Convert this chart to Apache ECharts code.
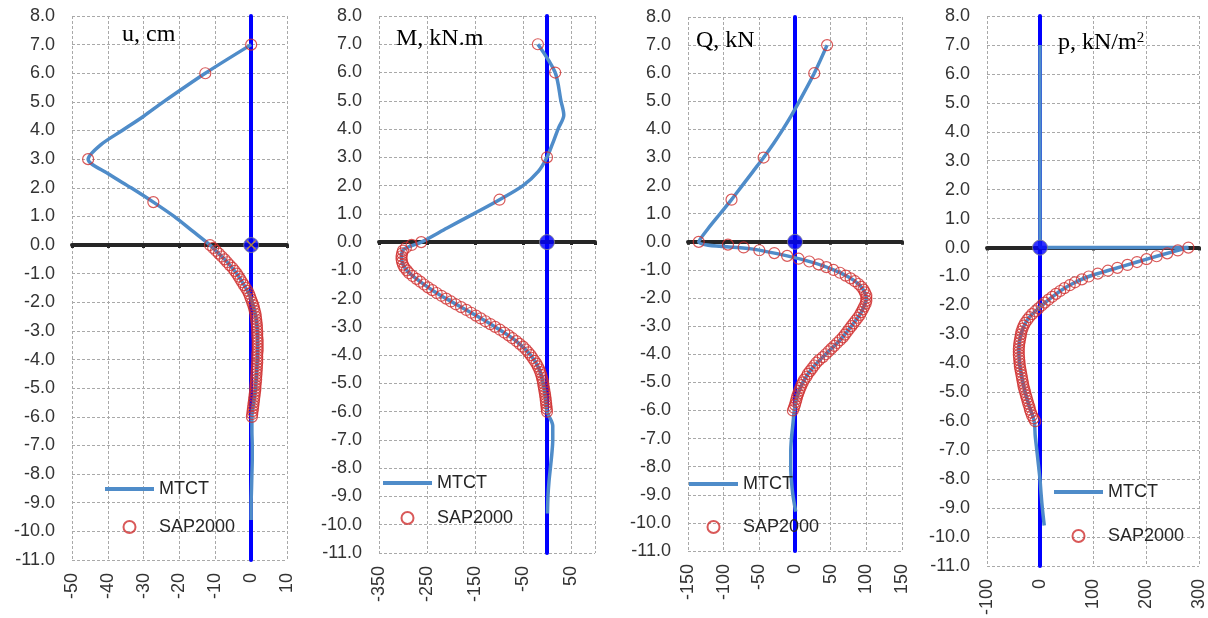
<!DOCTYPE html>
<html>
<head>
<meta charset="utf-8">
<script src="https://cdn.jsdelivr.net/npm/echarts@6/dist/echarts.min.js"></script>
<style>
  html, body { margin: 0; padding: 0; background: #fff; }
  #main { width: 1208px; height: 618px; }
</style>
</head>
<body>
<div id="main"></div>
<script>
// depths (m) of the SAP2000 points above ground
var sapTopDepth = [7, 6, 3, 1.5];
// depths (m) of the SAP2000 points along the embedded part
var sapDepth = [0, -0.1, -0.2, -0.3, -0.4, -0.5, -0.6, -0.7, -0.8, -0.9,
  -1.0, -1.1, -1.2, -1.3, -1.4, -1.5, -1.6, -1.7, -1.8, -1.9,
  -2.0, -2.1, -2.2, -2.3, -2.4, -2.5, -2.6, -2.7, -2.8, -2.9,
  -3.0, -3.1, -3.2, -3.3, -3.4, -3.5, -3.6, -3.7, -3.8, -3.9,
  -4.0, -4.1, -4.2, -4.3, -4.4, -4.5, -4.6, -4.7, -4.8, -4.9,
  -5.0, -5.1, -5.2, -5.3, -5.4, -5.5, -5.6, -5.7, -5.8, -5.9,
  -6.0];
// depths (m) of the MTCT curve points
var mtctDepth = [7, 6, 5, 4.5, 4, 3.5, 3, 2.5, 2, 1.5, 1, 0.5, 0,
  -0.25, -0.5, -0.75, -1, -1.25, -1.5, -1.75, -2, -2.5, -3, -3.5, -4,
  -4.5, -5, -5.5, -6, -6.5, -7, -7.5, -8, -8.5, -9, -9.6];
var pMtctDepth = [7, 0, 0, -0.25, -0.5, -0.75, -1, -1.25, -1.5, -1.75, -2,
  -2.5, -3, -3.5, -4, -4.5, -5, -5.5, -6, -6.5, -7, -7.5, -8, -8.5, -9, -9.6];

// u, cm
var uMtct = [0, -12.8, -24.5, -30, -36, -42, -45.5, -40, -33.5, -27.3, -21.5, -16.5, -11.5,
  -9.4, -7.4, -5.6, -4.0, -2.7, -1.5, -0.4, 0.3, 1.3, 1.7, 1.8, 1.7,
  1.5, 1.2, 0.7, 0.2, 0.2, 0.3, 0.3, 0.2, 0.1, 0.0, 0.0];
var uSapTop = [0, -12.8, -45.5, -27.3];
var uSap = [-11.5, -10.6, -9.8, -9.0, -8.2, -7.4, -6.7, -6.0, -5.2, -4.6,
  -4.0, -3.5, -3.0, -2.5, -2.0, -1.5, -1.0, -0.6, -0.3, 0.0,
  0.3, 0.6, 0.8, 1.0, 1.2, 1.3, 1.4, 1.5, 1.6, 1.6,
  1.7, 1.7, 1.7, 1.8, 1.8, 1.8, 1.8, 1.8, 1.7, 1.7,
  1.7, 1.7, 1.6, 1.6, 1.5, 1.5, 1.4, 1.4, 1.3, 1.2,
  1.2, 1.1, 1.0, 0.9, 0.8, 0.7, 0.6, 0.5, 0.4, 0.3,
  0.2];

// M, kN.m
var mMtct = [-19, 17, 29, 35, 23, 12, 0, -18, -50, -99, -153, -208, -262,
  -298, -303, -301, -292, -276, -256, -235, -210, -158, -108, -64, -34,
  -16, -8, -3.2, 0, 12, 12, 10, 7, 4, 2, 1];
var mSapTop = [-19, 17, 0, -99];
var mSap = [-262, -282, -294, -300, -302, -303, -303, -302, -300, -297,
  -292, -287, -280, -272, -264, -256, -248, -239, -230, -220,
  -210, -200, -190, -179, -168, -158, -148, -138, -128, -118,
  -108, -98, -89, -80, -72, -64, -57, -50, -44, -39,
  -34, -30, -26, -22, -19, -16, -14, -12, -10.5, -9,
  -8, -7, -6, -5, -4, -3.2, -2.5, -1.8, -1.2, -0.6,
  0];

// Q, kN
var qMtct = [45, 27, 6, -5, -17, -30, -44, -59, -74, -89, -105, -121, -135,
  -61, -11, 27, 54, 75, 89, 97, 100, 93, 79, 63, 43,
  24, 11, 3, -1, -3, -5, -6, -6, -5, -3, 1];
var qSapTop = [45, 27, -44, -89];
var qSap = [-135, -94, -72, -50, -29, -11, 5, 20, 33, 44,
  54, 63, 71, 78, 84, 89, 93, 96, 98, 100,
  100, 100, 99, 97, 95, 93, 91, 88, 85, 82,
  79, 76, 73, 70, 67, 63, 59, 55, 51, 47,
  43, 39, 34, 30, 27, 24, 21, 18, 16, 13,
  11, 9, 7.5, 6, 4.5, 3, 2, 1, 0, -1.5,
  -3];

// p, kN/m2
var pMtct = [0, 0, 280, 230, 183, 137, 92, 61, 38, 20, 3,
  -24, -36, -40, -38.5, -34, -28, -20, -11, -9, -6, -3, 0, 2, 4.4, 8];
var pSap = [280, 260, 240, 220, 201, 183, 165, 146, 128, 109,
  92, 79, 66, 56, 46, 38, 30, 23, 16, 9,
  3, -3, -9, -15, -20, -24, -28, -31, -33, -35,
  -36, -37, -38, -39, -39.5, -40, -40, -40, -39.5, -39,
  -38.5, -38, -37, -36, -35, -34, -33, -32, -31, -29.5,
  -28, -26.5, -25, -23.5, -22, -20, -19, -17, -15, -12,
  -9];

// pile head point
var pileHead = [[0, 0]];

var yTicks = { min: -11, max: 8, interval: 1 };

function pairs(xs, ys) {
  return xs.map(function (x, i) { return [x, ys[i]]; });
}

var panels = [
  { grid: { left: 72, top: 16, width: 215, height: 544 },
    x: { min: -50, max: 10, interval: 10 },
    mtct: pairs(uMtct, mtctDepth),
    sap: pairs(uSapTop, sapTopDepth).concat(pairs(uSap, sapDepth)),
    legend: { left: 103, top: 479, itemGap: 18 }, cross: true },
  { grid: { left: 379, top: 16, width: 216, height: 537 },
    x: { min: -350, max: 100, interval: 100 }, hideMax: true,
    mtct: pairs(mMtct, mtctDepth),
    sap: pairs(mSapTop, sapTopDepth).concat(pairs(mSap, sapDepth)),
    legend: { left: 381, top: 473, itemGap: 15 } },
  { grid: { left: 688, top: 17, width: 214, height: 534 },
    x: { min: -150, max: 150, interval: 50 },
    mtct: pairs(qMtct, mtctDepth),
    sap: pairs(qSapTop, sapTopDepth).concat(pairs(qSap, sapDepth)),
    legend: { left: 687, top: 474, itemGap: 23 } },
  { grid: { left: 987, top: 16, width: 214, height: 554 },
    x: { min: -100, max: 300, interval: 100 },
    mtct: pairs(pMtct, pMtctDepth),
    sap: pairs(pSap, sapDepth),
    legend: { left: 1052, top: 482, itemGap: 24 } }
];

var labelFont = { fontFamily: 'Liberation Sans', fontSize: 18, color: '#333' };
var gridLine = { lineStyle: { color: '#a9a9a9', width: 1, type: [3, 2] } };

var option = {
  animation: false,
  grid: [], xAxis: [], yAxis: [], series: [], legend: [],
  graphic: [
    { type: 'text', left: 122, top: 23, z: 10,
      style: { text: 'u, cm', fontFamily: 'Liberation Serif', fontSize: 24, fill: '#000' } },
    { type: 'text', left: 396, top: 27, z: 10,
      style: { text: 'M, kN.m', fontFamily: 'Liberation Serif', fontSize: 24, fill: '#000' } },
    { type: 'text', left: 696, top: 29, z: 10,
      style: { text: 'Q, kN', fontFamily: 'Liberation Serif', fontSize: 24, fill: '#000' } },
    { type: 'text', left: 1058, top: 31, z: 10,
      style: { text: 'p, kN/m{s|2}', fontFamily: 'Liberation Serif', fontSize: 24, fill: '#000',
        rich: { s: { fontFamily: 'Liberation Serif', fontSize: 15, verticalAlign: 'top', fill: '#000' } } } }
  ]
};

panels.forEach(function (p, i) {
  option.grid.push(p.grid);
  // labelled x axis at the bottom
  option.xAxis.push({
    gridIndex: i, type: 'value', min: p.x.min, max: p.x.max, interval: p.x.interval,
    position: 'bottom',
    axisLine: { show: false, onZero: false }, axisTick: { show: false },
    axisLabel: Object.assign({ rotate: 90, margin: 13, showMaxLabel: !p.hideMax }, labelFont),
    splitLine: gridLine
  });
  // black line at depth 0
  option.xAxis.push({
    gridIndex: i, type: 'value', min: p.x.min, max: p.x.max, interval: p.x.interval,
    position: 'bottom',
    axisLine: { onZero: true, lineStyle: { color: '#262626', width: 4 } },
    axisTick: { show: true, length: 3, lineStyle: { color: '#262626', width: 3 } },
    axisLabel: { show: false }, splitLine: { show: false }
  });
  option.yAxis.push({
    gridIndex: i, type: 'value', min: yTicks.min, max: yTicks.max, interval: yTicks.interval,
    position: 'left',
    axisLine: { show: false, onZero: false }, axisTick: { show: false },
    axisLabel: Object.assign({ margin: 17, formatter: function (v) { return v.toFixed(1); } }, labelFont),
    splitLine: gridLine
  });
  // blue pile axis at x = 0
  option.yAxis.push({
    gridIndex: i, type: 'value', min: yTicks.min, max: yTicks.max, interval: yTicks.interval,
    position: 'left',
    axisLine: { onZero: true, lineStyle: { color: '#0000ff', width: 4 } },
    axisTick: { show: false }, axisLabel: { show: false }, splitLine: { show: false }
  });

  var xi = 2 * i, yi = 2 * i;
  option.series.push({
    name: 'MTCT', type: 'line', xAxisIndex: xi, yAxisIndex: yi,
    data: p.mtct, symbol: 'none', smooth: 0.3, z: 3,
    lineStyle: { color: '#4f8cc9', width: 3.5 }, itemStyle: { color: '#4f8cc9' }
  });
  option.series.push({
    name: 'SAP2000', type: 'scatter', xAxisIndex: xi, yAxisIndex: yi,
    data: p.sap, symbol: 'circle', symbolSize: 11, z: 4,
    itemStyle: { color: 'rgba(0,0,0,0)', borderColor: '#d03030', borderWidth: 1.2 }
  });
  option.series.push({
    type: 'scatter', xAxisIndex: xi, yAxisIndex: yi, data: pileHead,
    symbol: 'circle', symbolSize: 15, z: 5, silent: true,
    itemStyle: { color: '#0000ff', borderColor: '#8c8c8c', borderWidth: 1 }
  });
  if (p.cross) {
    option.series.push({
      type: 'scatter', xAxisIndex: xi, yAxisIndex: yi, data: pileHead,
      symbol: 'path://M0,0L10,10M10,0L0,10', symbolSize: 9, z: 6, silent: true,
      itemStyle: { color: 'rgba(0,0,0,0)', borderColor: '#d9a520', borderWidth: 1.5 }
    });
  }
  option.legend.push({
    orient: 'vertical', left: p.legend.left, top: p.legend.top, itemGap: p.legend.itemGap,
    padding: 0, itemWidth: 49, itemHeight: 12, selectedMode: false,
    data: [
      { name: 'MTCT', itemStyle: { opacity: 0 }, lineStyle: { width: 4 } },
      'SAP2000'
    ],
    textStyle: { fontFamily: 'Liberation Sans', fontSize: 18, color: '#262626', lineHeight: 20 }
  });
});

var myChart = echarts.init(document.getElementById('main'));
myChart.setOption(option);
</script>
</body>
</html>
